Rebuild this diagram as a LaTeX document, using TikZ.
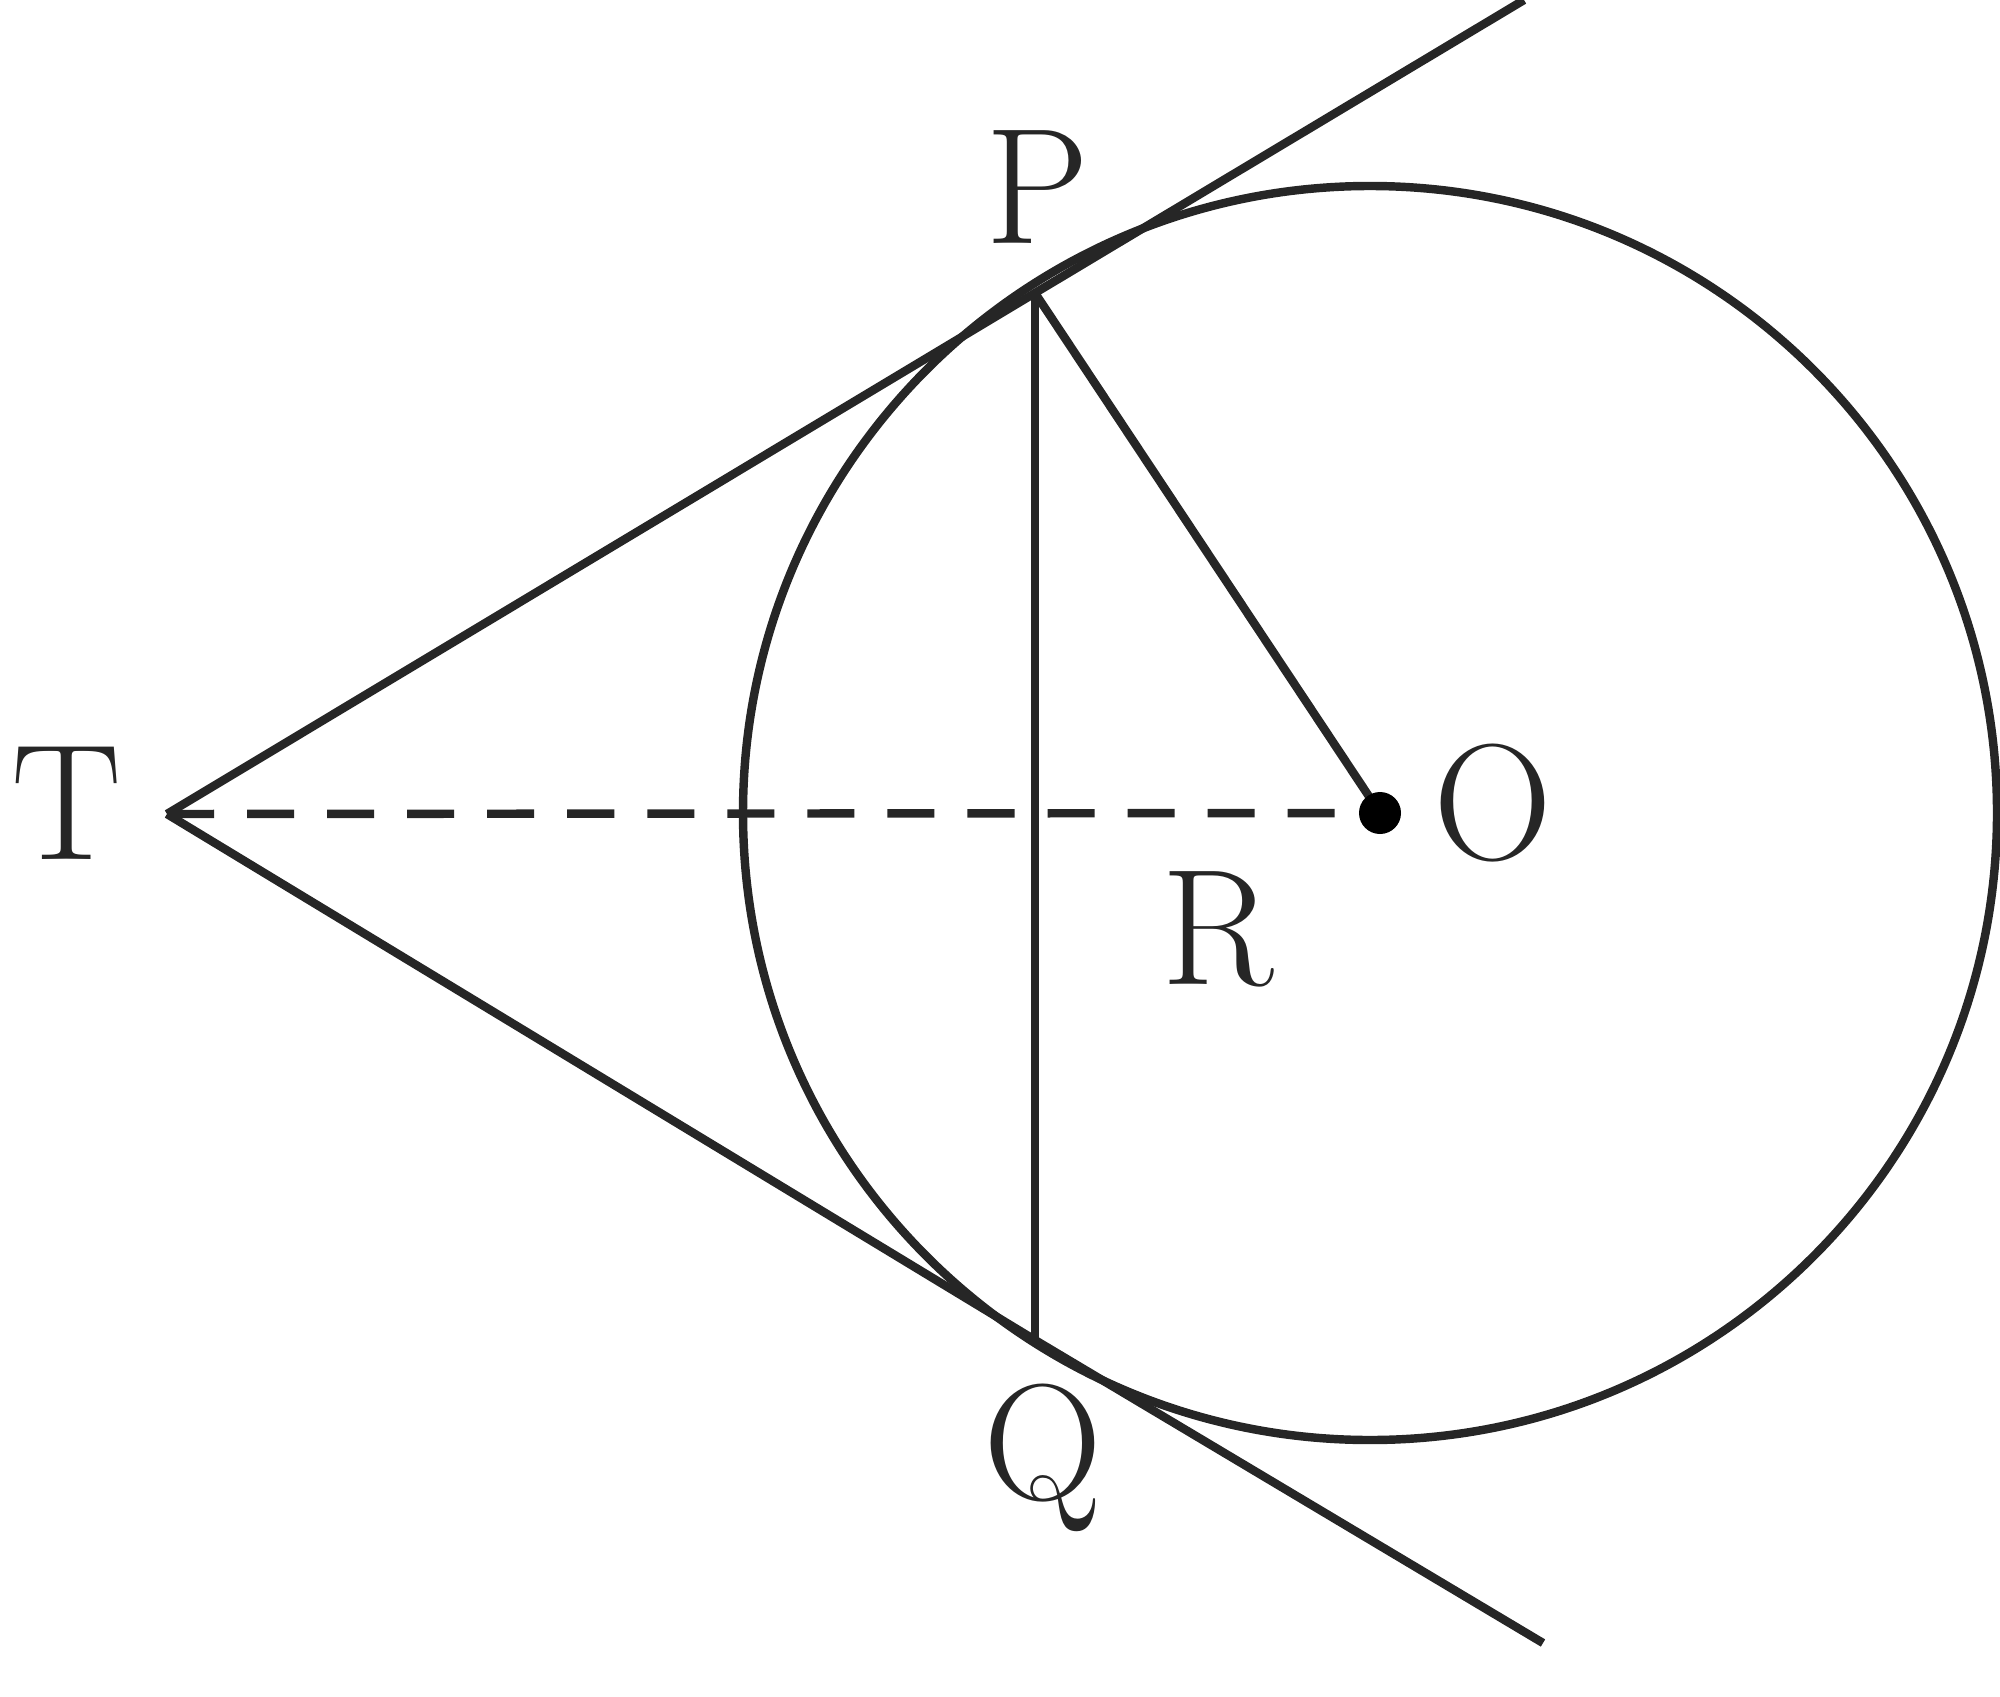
\documentclass[tikz,border=0pt]{standalone}
\begin{document}
\begin{tikzpicture}[x=0.01cm,y=-0.01cm,
  geo/.style={line width=2.4pt,draw=black!85},
  lbl/.style={font=\fontsize{47}{56}\selectfont,text=black!85,inner sep=0pt}]
\useasboundingbox (0,0) rectangle (2000,1697);
\coordinate (T) at (167,814);
\coordinate (O) at (1380,813);
\coordinate (C) at (1370,813);
\coordinate (P) at (1035,293);
\coordinate (Q) at (1035,1340);
\coordinate (E1) at (1524,0);
\coordinate (E2) at (1543,1643);
\draw[geo] (C) circle [radius=627];
\draw[geo] (T) -- (P) -- (E1);
\draw[geo] (T) -- (Q) -- (E2);
\draw[geo] (P) -- (Q);
\draw[geo] (P) -- (O);
\draw[geo,dash pattern=on 0.47cm off 0.33cm] (T) -- (O);
\fill[black] (O) circle [radius=21];
\node[lbl] (lT) at (67,803) {T};
\node[lbl] (lO) at (1493,803) {O};
\node[lbl] (lP) at (1037,187) {P};
\node[lbl] (lQ) at (1043,1458) {Q};
\node[lbl] (lR) at (1218,929) {R};
\end{tikzpicture}
\end{document}
